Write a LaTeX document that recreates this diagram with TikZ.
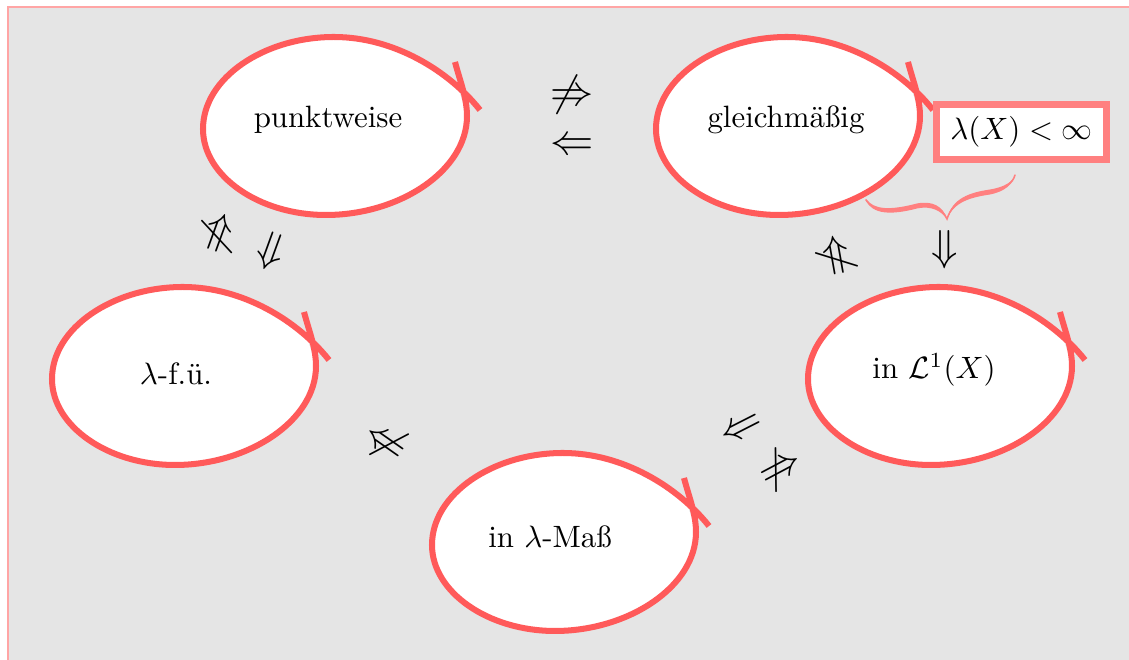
\documentclass[tikz,border=0pt]{standalone}
\usepackage{amssymb}
\definecolor{loopred}{RGB}{255,90,90}
\definecolor{boxred}{RGB}{255,128,128}
\definecolor{bggray}{RGB}{229,229,229}
\definecolor{framered}{RGB}{255,165,165}
\begin{document}
\begin{tikzpicture}[x=0.324pt,y=-0.324pt,
  loopline/.style={draw=loopred, line width=1.95pt, line join=round},
  lbl/.style={inner sep=0pt},
  sym/.style={inner sep=0pt, scale=1.4},
  pics/blob/.style={code={
     \fill[white] (133,-10) .. controls (133,45) and (65,89) .. (-8,89) .. controls (-75,89) and (-131,50) .. (-131,3) .. controls (-131,-48) and (-70,-89) .. (0,-89) .. controls (48,-89) and (92.8,-67.2) .. (123.7,-39.6) -- cycle;
     \draw[loopline] (121,-64) .. controls (126,-45) and (133,-28) .. (133,-10) .. controls (133,45) and (65,89) .. (-8,89) .. controls (-75,89) and (-131,50) .. (-131,3) .. controls (-131,-48) and (-70,-89) .. (0,-89) .. controls (60,-89) and (115,-55) .. (146,-16);
  }}]
\clip (0,0) rectangle (1129,660);
\fill[bggray] (7,6) rectangle (1140,670);
\draw[framered, line width=0.55pt] (7.8,680) -- (7.8,6.8) -- (1140,6.8);

% loops
\pic at (334,126) {blob};
\pic at (787,126) {blob};
\pic at (183,376) {blob};
\pic at (939,376) {blob};
\pic at (563,542) {blob};

% labels
\node[lbl] (pw) at (328,120) {punktweise};
\node[lbl] (gm) at (786,120) {gleichmäßig};
\node[lbl] (fu) at (176,374) {$\lambda$-f.ü.};
\node[lbl] (l1) at (934,370) {in $\mathcal{L}^1(X)$};
\node[lbl] (im) at (550,537) {in $\lambda$-Maß};

% condition box and tapered brace
\node[draw=boxred, fill=white, line width=2.2pt, minimum width=55pt, minimum height=17.8pt, inner sep=0pt] (fin) at (1021.5,132) {$\lambda(X)<\infty$};
\fill[boxred] (866,199) .. controls (874,210) and (890,210.5) .. (917,203.5) .. controls (932,200.5) and (943,206) .. (947,219)
   .. controls (941,211) and (932,205.5) .. (917,208.5) .. controls (890,215.5) and (873,214) .. (866,201) -- cycle;
\fill[boxred] (947,219) .. controls (952,198) and (970,192.5) .. (990,189.5) .. controls (1005,187) and (1012,182) .. (1015.5,175)
   -- (1014.5,175.5) .. controls (1013,184) and (1005,191.5) .. (990,194.5) .. controls (970,197.5) and (954,202) .. (947,219) -- cycle;
\draw[boxred, line width=0.5pt, line cap=round] (866,200) .. controls (874,212) and (890,213) .. (917,206) .. controls (932,203) and (942,208) .. (947,219) .. controls (953,200) and (970,195) .. (990,192) .. controls (1005,189) and (1013,183) .. (1015,175);

% implication symbols
\node[sym] (t1) at (572,95) {$\not\Rightarrow$};
\node[sym] (t2) at (572,147) {$\Leftarrow$};
\node[sym, rotate=70] (p1) at (219,233) {$\not\Rightarrow$};
\node[sym, rotate=70] (p2) at (273,252) {$\Leftarrow$};
\node[sym, rotate=100] (r1) at (836,255) {$\not\Rightarrow$};
\node[sym] (r2) at (945,250) {$\Downarrow$};
\node[sym, rotate=27] (b1) at (742,430) {$\Leftarrow$};
\node[sym, rotate=28] (b2) at (781,468) {$\not\Rightarrow$};
\node[sym, rotate=145] (c1) at (386,442) {$\not\Rightarrow$};
\end{tikzpicture}
\end{document}
